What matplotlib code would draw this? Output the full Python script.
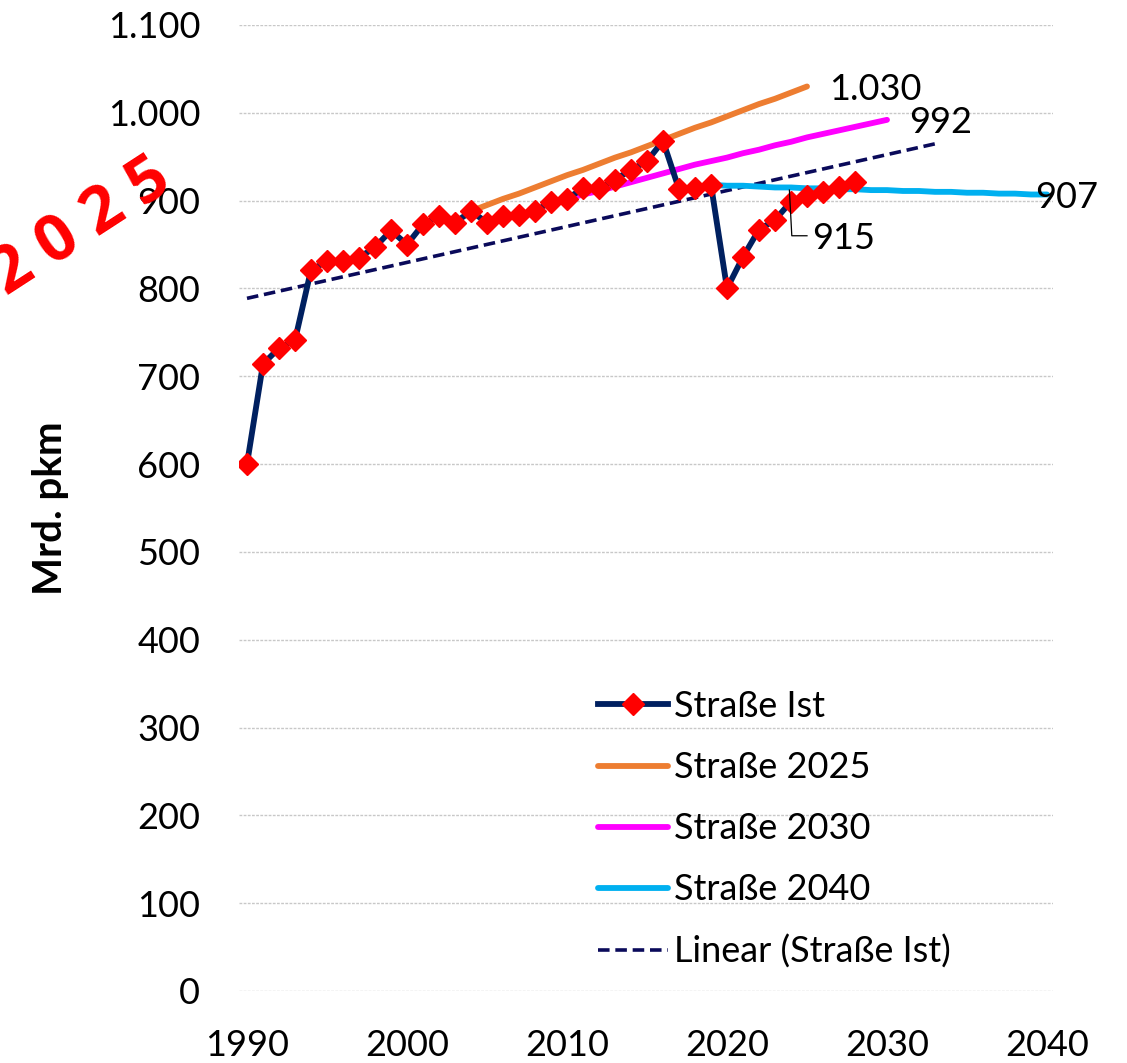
import numpy as np
import matplotlib
matplotlib.use("Agg")
import matplotlib.pyplot as plt
from matplotlib.ticker import FuncFormatter

plt.rcParams['font.family'] = ['Lato', 'DejaVu Sans']

# ---- data ----
years_ist = list(range(1990, 2029))
ist = [600, 714, 732, 741, 821, 831, 831, 835, 847, 866,
       850, 873, 882, 875, 888, 875, 882, 884, 888, 899,
       902, 914, 914, 924, 935, 945, 968, 913, 914, 918,
       800, 836, 867, 878, 899, 905, 910, 916, 921]

years_2025 = list(range(2004, 2026))
s2025 = [888, 895, 902, 908, 915, 922, 929, 935, 942, 949, 955,
         962, 969, 976, 983, 989, 996, 1003, 1010, 1016, 1023, 1030]

years_2030 = list(range(2010, 2031))
s2030 = [902, 907, 911, 916, 921, 926, 931, 936, 941, 945, 949,
         954, 958, 963, 967, 972, 976, 980, 984, 988, 992]

years_2040 = list(range(2019, 2041))
s2040 = [918, 917, 917, 916, 915, 915, 914, 914, 913, 913, 912,
         912, 911, 911, 910, 910, 909, 909, 908, 908, 907, 907]

label_915 = 915
trend_end_year = 2033

x_ticks = [1990, 2000, 2010, 2020, 2030, 2040]
y_ticks = list(range(0, 1101, 100))

# ---- figure ----
fig = plt.figure(figsize=(11.27, 10.63), dpi=100)
ax = fig.add_axes([239/1127, 1 - 991/1063, (1053-239)/1127, (991-25)/1063])

# trend line (linear fit of Ist)
coef = np.polyfit(years_ist, ist, 1)
tx = np.array([years_ist[0], trend_end_year])
ax.plot(tx, np.polyval(coef, tx), color='#0a0a5a', lw=2.6, ls=(0, (3.2, 1.6)),
        label='Linear (Straße Ist)', zorder=2)

ax.plot(years_2025, s2025, color='#ED7D31', lw=4.2, solid_capstyle='round',
        label='Straße 2025', zorder=3)
ax.plot(years_2030, s2030, color='#FF00FF', lw=4.2, solid_capstyle='round',
        label='Straße 2030', zorder=3)
ax.plot(years_2040, s2040, color='#00B0F0', lw=4.2, solid_capstyle='round',
        label='Straße 2040', zorder=3)
ax.plot(years_ist, ist, color='#002060', lw=4.2, marker='D', markersize=11.5,
        markerfacecolor='#FF0000', markeredgecolor='#FF0000',
        label='Straße Ist', zorder=4)

ax.set_xlim(1989.5, 2040.375)
ax.set_ylim(0, 1100)
ax.set_xticks(x_ticks)
ax.set_yticks(y_ticks)

def de_fmt(v, pos=None):
    return f"{int(round(v)):,}".replace(",", ".")

ax.yaxis.set_major_formatter(FuncFormatter(de_fmt))
ax.tick_params(axis='both', length=0, labelsize=26)
ax.tick_params(axis='y', pad=28)
ax.tick_params(axis='x', pad=27)
for s in ax.spines.values():
    s.set_visible(False)
ax.grid(axis='y', color='#c8c8c8', lw=1, ls=(0, (2, 1)))
ax.set_axisbelow(True)

ax.set_ylabel('Mrd. pkm', fontsize=29, fontweight='bold', labelpad=28)

# value labels
ax.text(years_2025[-1] + 1.4, s2025[-1] - 4, de_fmt(s2025[-1]), fontsize=26,
        va='center', ha='left')
ax.text(years_2030[-1] + 1.4, s2030[-1] - 3, de_fmt(s2030[-1]), fontsize=26,
        va='center', ha='left')
ax.text(years_2040[-1] - 0.75, s2040[-1] - 3, de_fmt(s2040[-1]), fontsize=26,
        va='center', ha='left', clip_on=False)
ax.plot([2023.9, 2024.05, 2025.0], [912, 860, 860], color='black', lw=0.9, zorder=5)
ax.text(2025.3, 857, de_fmt(label_915), fontsize=26, va='center', ha='left')

# legend
handles, labels = ax.get_legend_handles_labels()
order = [4, 1, 2, 3, 0]
leg = fig.legend([handles[i] for i in order], [labels[i] for i in order],
                 loc='upper left', bbox_to_anchor=(598/1127, 1 - 690/1063),
                 frameon=False, fontsize=26, handlelength=1.95,
                 handletextpad=0.15, labelspacing=0.78, borderpad=0,
                 borderaxespad=0)

# red watermark
fig.text(82/1127, 1 - 228/1063, '2 0 2 5', color='#FF0000', fontsize=47,
         fontweight='bold', rotation=33, ha='center', va='center',
         family=['Open Sans', 'DejaVu Sans'])

fig.savefig('out.png', dpi=100)
